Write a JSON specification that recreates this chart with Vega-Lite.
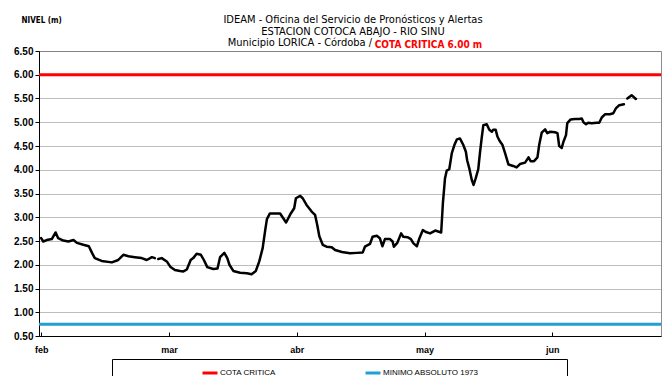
{
  "$schema": "https://vega.github.io/schema/vega-lite/v6.json",
  "width": 622,
  "height": 285,
  "autosize": {"type": "none"},
  "padding": {"left": 39, "top": 51, "right": 5, "bottom": 40},
  "background": "white",
  "title": {
    "text": ["IDEAM - Oficina del Servicio de Pronósticos y Alertas", "ESTACION COTOCA ABAJO - RIO SINU"],
    "subtitle": "Municipio LORICA - Córdoba /\u2003\u2003\u2003\u2003\u2003\u2003\u2003\u2003\u2003\u2003\u2800",
    "font": "Liberation Sans Narrow, DejaVu Sans Condensed, sans-serif",
    "fontSize": 11,
    "fontWeight": "normal",
    "color": "black",
    "subtitleFont": "Liberation Sans Narrow, DejaVu Sans Condensed, sans-serif",
    "subtitleFontSize": 11,
    "subtitleColor": "black",
    "lineHeight": 12.5,
    "subtitleLineHeight": 12.5,
    "subtitlePadding": 0,
    "anchor": "middle",
    "frame": "group",
    "offset": -32,
    "dx": 3
  },
  "config": {
    "font": "Liberation Sans",
    "view": {"stroke": "#8c8c8c", "strokeWidth": 1}
  },
  "datasets": {
    "referencias": [
      {"serie": "COTA CRITICA", "nivel": 6.0},
      {"serie": "MINIMO ABSOLUTO 1973", "nivel": 0.75}
    ],
    "niveles": [
      {"dia": 0, "nivel": 2.56}, {"dia": 0.5, "nivel": 2.49}, {"dia": 1.3, "nivel": 2.52}, {"dia": 2.5, "nivel": 2.54},
      {"dia": 3.4, "nivel": 2.68}, {"dia": 4.0, "nivel": 2.56}, {"dia": 5.2, "nivel": 2.51}, {"dia": 6.4, "nivel": 2.49},
      {"dia": 7.6, "nivel": 2.52}, {"dia": 8.4, "nivel": 2.46}, {"dia": 9.9, "nivel": 2.42}, {"dia": 11.2, "nivel": 2.39},
      {"dia": 12.0, "nivel": 2.24}, {"dia": 12.6, "nivel": 2.14}, {"dia": 14.2, "nivel": 2.08}, {"dia": 16.6, "nivel": 2.05},
      {"dia": 18.1, "nivel": 2.10}, {"dia": 19.3, "nivel": 2.21}, {"dia": 20.5, "nivel": 2.18}, {"dia": 22.0, "nivel": 2.16},
      {"dia": 23.6, "nivel": 2.14}, {"dia": 24.8, "nivel": 2.10}, {"dia": 26.0, "nivel": 2.16}, {"dia": 26.7, "nivel": 2.14},
      {"dia": 27.1, "nivel": null},
      {"dia": 27.5, "nivel": 2.12}, {"dia": 28.3, "nivel": 2.14}, {"dia": 29.5, "nivel": 2.07}, {"dia": 30.3, "nivel": 1.96},
      {"dia": 31.4, "nivel": 1.89}, {"dia": 32.6, "nivel": 1.87}, {"dia": 33.4, "nivel": 1.86}, {"dia": 34.2, "nivel": 1.90},
      {"dia": 35.1, "nivel": 2.10}, {"dia": 35.7, "nivel": 2.14}, {"dia": 36.5, "nivel": 2.23}, {"dia": 37.5, "nivel": 2.21},
      {"dia": 38.2, "nivel": 2.10}, {"dia": 39.0, "nivel": 1.95}, {"dia": 40.4, "nivel": 1.91}, {"dia": 41.4, "nivel": 1.92},
      {"dia": 42.0, "nivel": 2.16}, {"dia": 43.0, "nivel": 2.25}, {"dia": 43.7, "nivel": 2.14}, {"dia": 44.2, "nivel": 2.00},
      {"dia": 45.1, "nivel": 1.87}, {"dia": 46.7, "nivel": 1.83}, {"dia": 48.3, "nivel": 1.82}, {"dia": 49.4, "nivel": 1.80},
      {"dia": 50.4, "nivel": 1.87}, {"dia": 51.2, "nivel": 2.07}, {"dia": 52.0, "nivel": 2.35}, {"dia": 52.6, "nivel": 2.73},
      {"dia": 53.0, "nivel": 2.96}, {"dia": 53.7, "nivel": 3.08}, {"dia": 54.9, "nivel": 3.08}, {"dia": 56.1, "nivel": 3.08},
      {"dia": 57.5, "nivel": 2.89}, {"dia": 58.6, "nivel": 3.08}, {"dia": 59.4, "nivel": 3.19}, {"dia": 59.8, "nivel": 3.40},
      {"dia": 60.8, "nivel": 3.45}, {"dia": 61.4, "nivel": 3.40}, {"dia": 62.3, "nivel": 3.26}, {"dia": 63.5, "nivel": 3.12},
      {"dia": 64.3, "nivel": 3.05}, {"dia": 64.8, "nivel": 2.84}, {"dia": 65.3, "nivel": 2.60}, {"dia": 66.1, "nivel": 2.42},
      {"dia": 67.0, "nivel": 2.38}, {"dia": 68.2, "nivel": 2.37}, {"dia": 69.0, "nivel": 2.31}, {"dia": 70.6, "nivel": 2.27},
      {"dia": 72.5, "nivel": 2.24}, {"dia": 74.1, "nivel": 2.25}, {"dia": 75.5, "nivel": 2.26}, {"dia": 76.0, "nivel": 2.38},
      {"dia": 77.2, "nivel": 2.44}, {"dia": 77.8, "nivel": 2.59}, {"dia": 78.8, "nivel": 2.61}, {"dia": 79.5, "nivel": 2.56},
      {"dia": 80.1, "nivel": 2.39}, {"dia": 80.7, "nivel": 2.54}, {"dia": 81.9, "nivel": 2.54}, {"dia": 82.5, "nivel": 2.49},
      {"dia": 82.8, "nivel": 2.38}, {"dia": 83.6, "nivel": 2.46}, {"dia": 84.5, "nivel": 2.66}, {"dia": 85.0, "nivel": 2.59},
      {"dia": 86.0, "nivel": 2.58}, {"dia": 86.8, "nivel": 2.54}, {"dia": 87.4, "nivel": 2.45}, {"dia": 88.2, "nivel": 2.39},
      {"dia": 88.8, "nivel": 2.56}, {"dia": 89.6, "nivel": 2.73}, {"dia": 90.3, "nivel": 2.69}, {"dia": 91.3, "nivel": 2.66},
      {"dia": 92.5, "nivel": 2.72}, {"dia": 93.2, "nivel": 2.70}, {"dia": 93.9, "nivel": 2.68}, {"dia": 94.3, "nivel": 3.29},
      {"dia": 94.8, "nivel": 3.82}, {"dia": 95.2, "nivel": 3.98}, {"dia": 95.8, "nivel": 4.01}, {"dia": 96.4, "nivel": 4.35},
      {"dia": 97.0, "nivel": 4.52}, {"dia": 97.6, "nivel": 4.64}, {"dia": 98.3, "nivel": 4.66}, {"dia": 99.1, "nivel": 4.52},
      {"dia": 99.7, "nivel": 4.38}, {"dia": 100.0, "nivel": 4.20}, {"dia": 100.5, "nivel": 4.03}, {"dia": 101.1, "nivel": 3.78},
      {"dia": 101.5, "nivel": 3.68}, {"dia": 102.0, "nivel": 3.82}, {"dia": 102.6, "nivel": 4.01}, {"dia": 103.0, "nivel": 4.35},
      {"dia": 103.4, "nivel": 4.66}, {"dia": 103.8, "nivel": 4.94}, {"dia": 104.6, "nivel": 4.96}, {"dia": 105.2, "nivel": 4.84},
      {"dia": 105.8, "nivel": 4.80}, {"dia": 106.1, "nivel": 4.84}, {"dia": 106.7, "nivel": 4.84}, {"dia": 107.1, "nivel": 4.70},
      {"dia": 107.6, "nivel": 4.61}, {"dia": 108.3, "nivel": 4.52}, {"dia": 108.9, "nivel": 4.35}, {"dia": 109.7, "nivel": 4.11},
      {"dia": 110.8, "nivel": 4.08}, {"dia": 111.6, "nivel": 4.05}, {"dia": 112.4, "nivel": 4.12}, {"dia": 113.6, "nivel": 4.15},
      {"dia": 114.4, "nivel": 4.26}, {"dia": 114.9, "nivel": 4.18}, {"dia": 115.7, "nivel": 4.18}, {"dia": 116.5, "nivel": 4.26},
      {"dia": 116.9, "nivel": 4.52}, {"dia": 117.5, "nivel": 4.78}, {"dia": 118.3, "nivel": 4.85}, {"dia": 118.8, "nivel": 4.77},
      {"dia": 119.5, "nivel": 4.80}, {"dia": 120.6, "nivel": 4.79}, {"dia": 121.2, "nivel": 4.77}, {"dia": 121.6, "nivel": 4.50},
      {"dia": 122.2, "nivel": 4.46}, {"dia": 122.6, "nivel": 4.59}, {"dia": 123.2, "nivel": 4.73}, {"dia": 123.5, "nivel": 4.98},
      {"dia": 124.3, "nivel": 5.06}, {"dia": 125.3, "nivel": 5.07}, {"dia": 126.3, "nivel": 5.07}, {"dia": 126.9, "nivel": 5.08},
      {"dia": 127.3, "nivel": 5.00}, {"dia": 127.9, "nivel": 4.96}, {"dia": 128.4, "nivel": 4.99}, {"dia": 129.2, "nivel": 4.98},
      {"dia": 130.4, "nivel": 4.99}, {"dia": 131.0, "nivel": 4.99}, {"dia": 131.6, "nivel": 5.10}, {"dia": 132.4, "nivel": 5.17},
      {"dia": 133.5, "nivel": 5.17}, {"dia": 134.3, "nivel": 5.19}, {"dia": 134.9, "nivel": 5.29}, {"dia": 135.7, "nivel": 5.36},
      {"dia": 136.8, "nivel": 5.38},
      {"dia": 137.2, "nivel": null},
      {"dia": 137.6, "nivel": 5.50}, {"dia": 138.6, "nivel": 5.57}, {"dia": 139.6, "nivel": 5.49}
    ]
  },
  "encoding": {
    "y": {
      "field": "nivel",
      "type": "quantitative",
      "scale": {"domain": [0.5, 6.5], "nice": false, "zero": false},
      "axis": {
        "values": [0.5, 1, 1.5, 2, 2.5, 3, 3.5, 4, 4.5, 5, 5.5, 6, 6.5],
        "format": ".2f",
        "title": "NIVEL (m)",
        "titleAngle": 0,
        "titleAlign": "left",
        "titleBaseline": "middle",
        "titleX": -18,
        "titleY": -31,
        "titleFont": "Liberation Sans Narrow, DejaVu Sans Condensed, sans-serif",
        "titleFontSize": 8,
        "titleFontWeight": "bold",
        "titleColor": "black",
        "labelFont": "Liberation Sans",
        "labelFontSize": 10,
        "labelFontWeight": "bold",
        "labelColor": "black",
        "labelPadding": 2,
        "labelFlush": false,
        "tickSize": 4,
        "tickColor": "black",
        "domainColor": "black",
        "grid": true,
        "gridColor": "#7a7a7a",
        "gridDash": [1, 1],
        "gridWidth": 1
      }
    }
  },
  "layer": [
    {
      "data": {"name": "referencias"},
      "mark": {"type": "rule", "strokeWidth": 3},
      "encoding": {
        "color": {
          "field": "serie",
          "type": "nominal",
          "scale": {"domain": ["COTA CRITICA", "MINIMO ABSOLUTO 1973"], "range": ["#ff0000", "#1e9fd6"]},
          "legend": {
            "orient": "none",
            "legendX": 73,
            "legendY": 308,
            "direction": "horizontal",
            "columns": 2,
            "title": "\u2800",
            "titleOrient": "right",
            "titleFontSize": 8,
            "titlePadding": 78,
            "strokeColor": "black",
            "padding": 5,
            "symbolType": "stroke",
            "symbolSize": 225,
            "symbolStrokeWidth": 3,
            "symbolOffset": 84,
            "labelFont": "Liberation Sans",
            "labelFontSize": 8,
            "labelColor": "black",
            "labelOffset": 1,
            "labelLimit": 400,
            "columnPadding": 4
          }
        }
      }
    },
    {
      "data": {"name": "niveles"},
      "mark": {"type": "line", "color": "black", "strokeWidth": 2.5, "strokeJoin": "round", "strokeCap": "round"},
      "encoding": {
        "x": {
          "field": "dia",
          "type": "quantitative",
          "scale": {"domain": [-0.5, 145.5], "nice": false, "zero": false},
          "axis": {
            "values": [0, 30, 60, 90, 120],
            "labelExpr": "['feb','mar','abr','may','jun'][round(datum.value / 30)]",
            "labelFont": "Liberation Sans",
            "labelFontSize": 9,
            "labelFontWeight": "bold",
            "labelColor": "black",
            "labelPadding": 13,
            "labelFlush": false,
            "grid": false,
            "tickSize": -4,
            "tickColor": "black",
            "domainColor": "black",
            "title": "COTA CRITICA 6.00 m",
            "titleColor": "#ff0000",
            "titleFont": "Liberation Sans Narrow, DejaVu Sans Condensed, sans-serif",
            "titleFontSize": 10,
            "titleFontWeight": "bold",
            "titleAlign": "center",
            "titleBaseline": "alphabetic",
            "titleX": 389,
            "titleY": -289
          }
        }
      }
    }
  ]
}
